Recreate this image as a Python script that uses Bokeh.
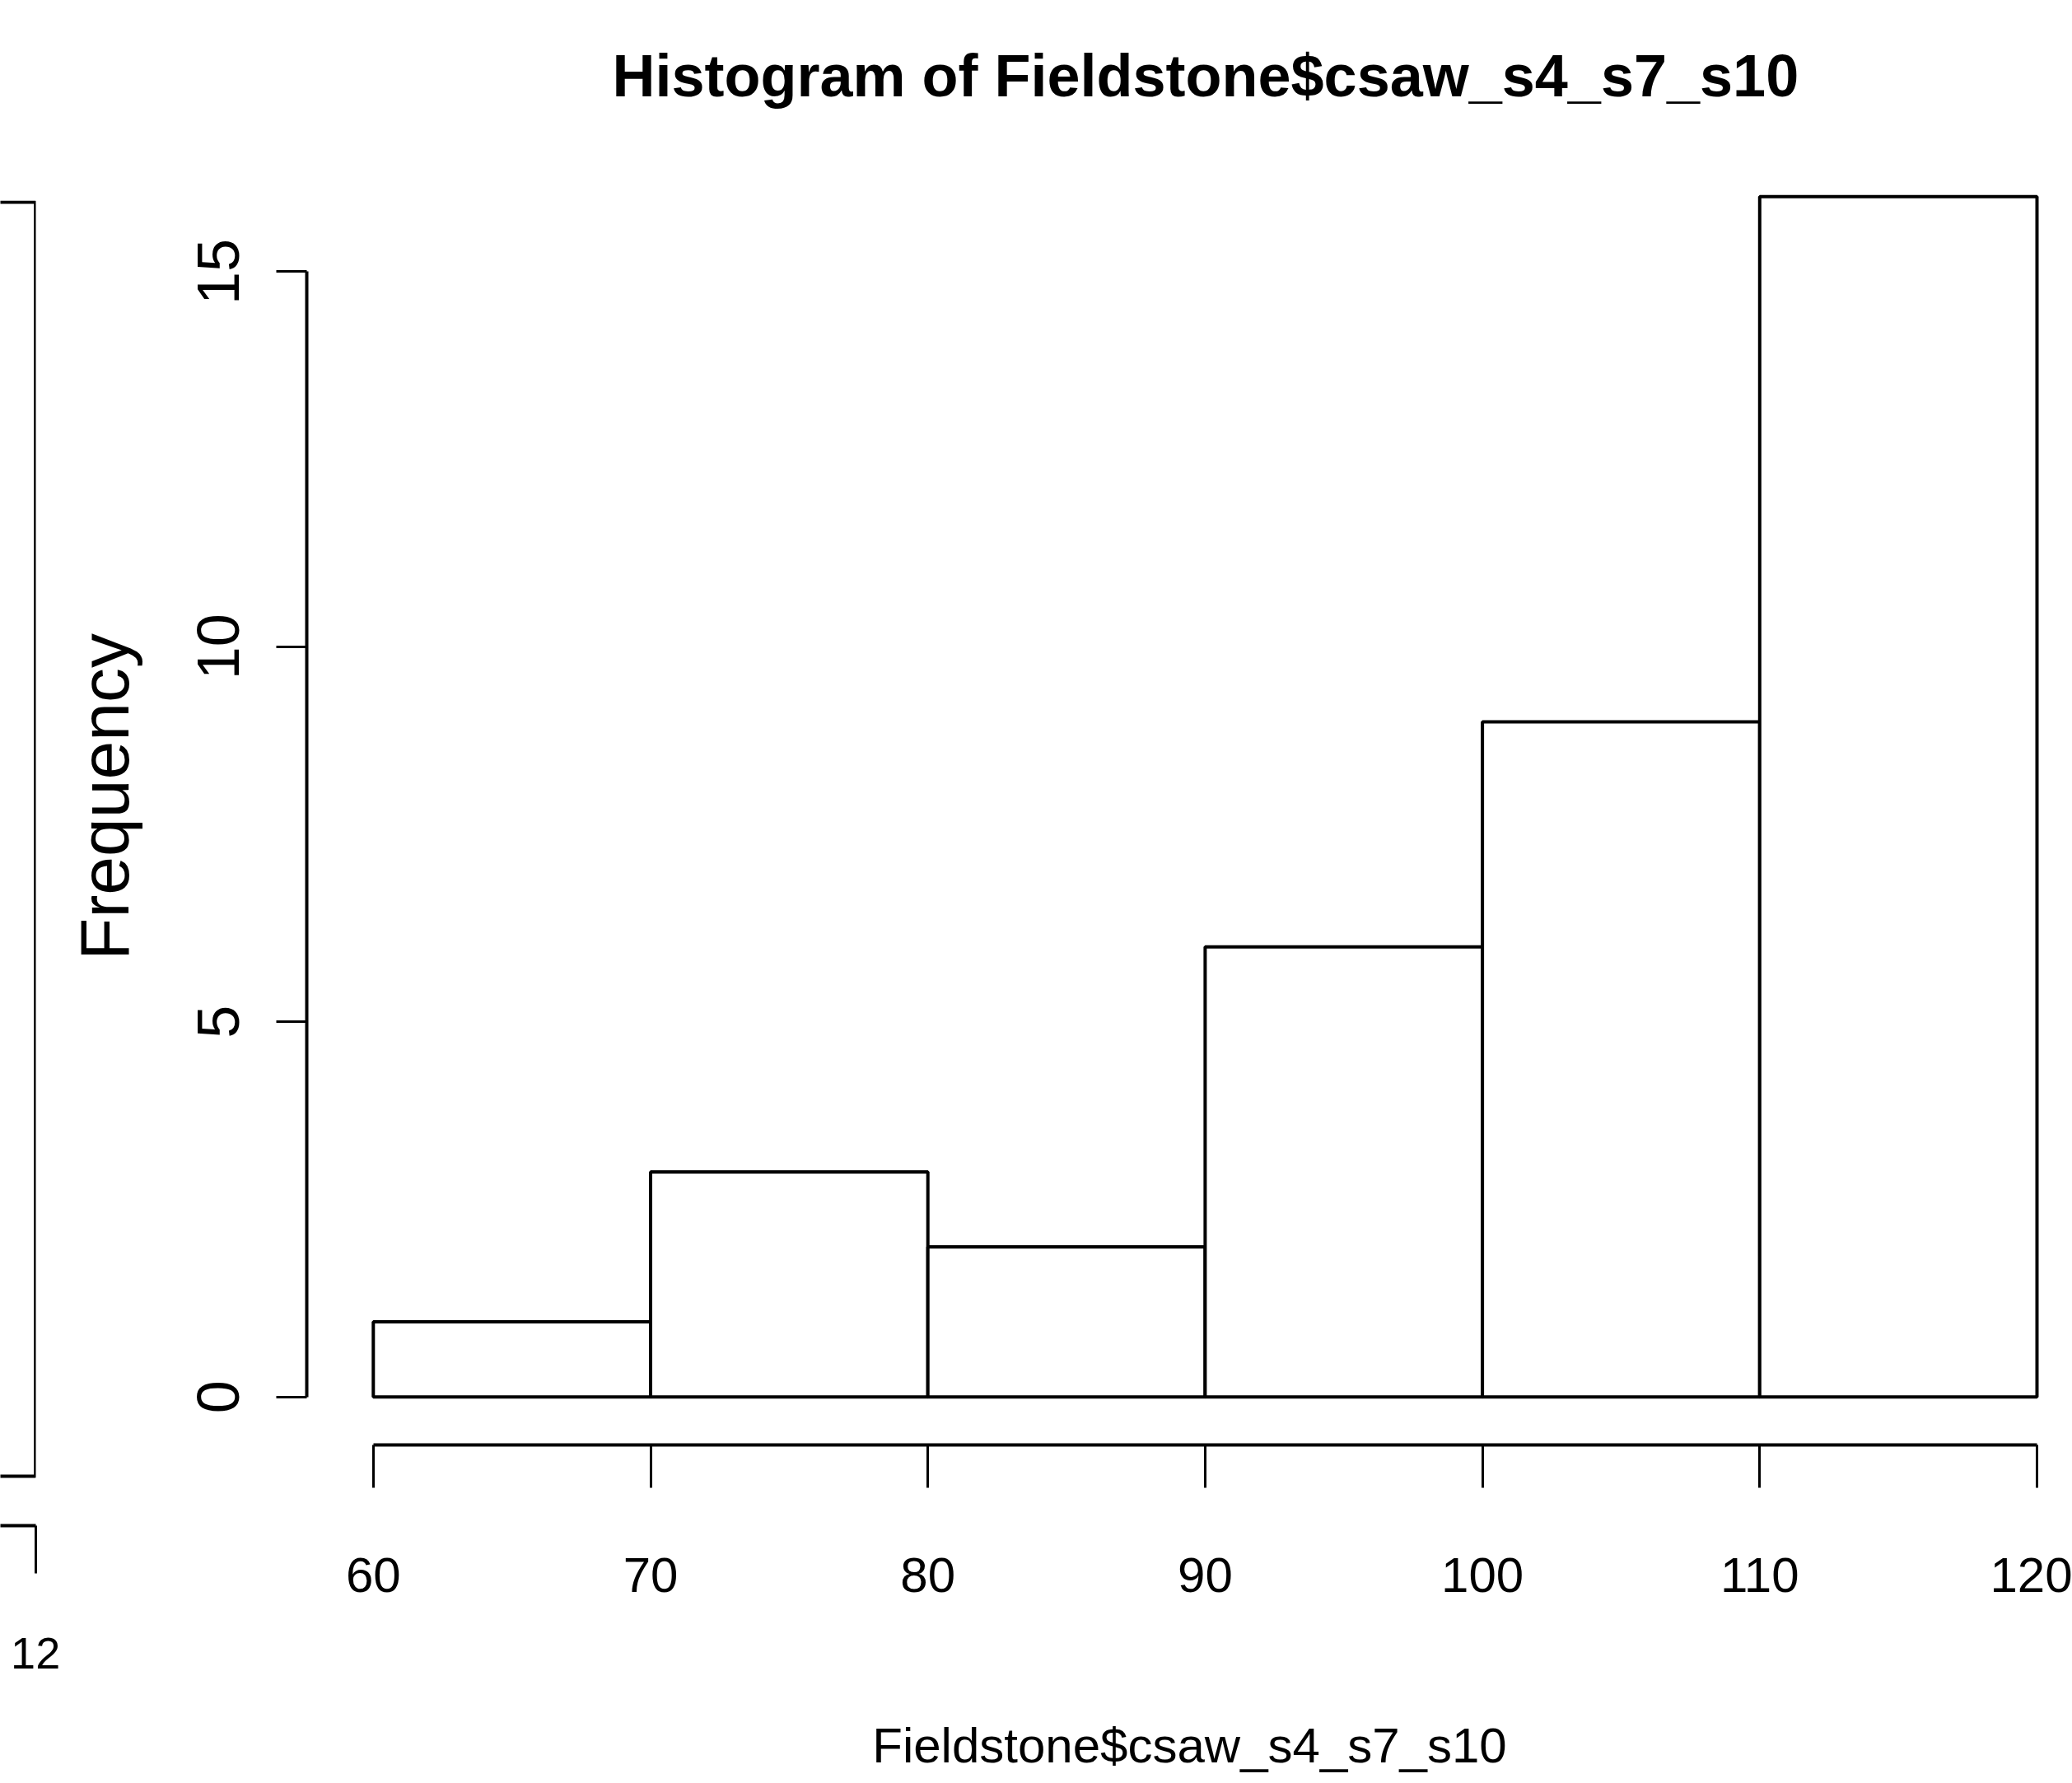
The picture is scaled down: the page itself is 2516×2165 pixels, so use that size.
from bokeh.plotting import figure
from bokeh.models import Range1d, FixedTicker, Title
from bokeh.layouts import row, column
from bokeh.embed import file_html
from bokeh.resources import INLINE

# ---- data ----
breaks = [60, 70, 80, 90, 100, 110, 120]
counts = [1, 3, 2, 6, 9, 16]
x_ticks = [60, 70, 80, 90, 100, 110, 120]
y_ticks = [0, 5, 10, 15]
title_text = "Histogram of Fieldstone$csaw_s4_s7_s10"
x_label = "Fieldstone$csaw_s4_s7_s10"
y_label = "Frequency"
# neighbouring (cut-off) panel at the left edge
left_ticks = [120]
left_tick_text = {120: "12"}

SANS = "Liberation Sans"

W, H = 2516, 2165
W_L = 74
FRAME_LEFT, FRAME_TOP, FRAME_BOTTOM = 372, 180, 1754

# R-style ranges: data range padded by 4 %
x0, x1 = breaks[0], breaks[-1]
xpad = 0.04 * (x1 - x0)
y0, y1 = 0, max(counts)
ypad = 0.04 * (y1 - y0)
x_start = x0 - xpad
px_per_x = (1542 - 283) * (2516 / 1568) / (x1 - x0)
x_end = x_start + (W - FRAME_LEFT) / px_per_x
y_start, y_end = y0 - ypad, y1 + ypad

# ---- left, cut-off neighbouring panel ----
pl = figure(width=W_L, height=H, output_backend="svg", toolbar_location=None,
            x_range=Range1d(0, 121), y_range=Range1d(-60, 1549),
            min_border_left=0, min_border_right=W_L - 43, min_border_top=243,
            min_border_bottom=H - 1852)
pl.outline_line_color = None
pl.grid.visible = False
pl.yaxis.visible = False
pl.quad(left=[-10], right=[left_ticks[-1]], bottom=[0], top=[1547],
        fill_color=None, line_color="black", line_width=4)
ax = pl.xaxis[0]
ax.ticker = FixedTicker(ticks=left_ticks)
ax.major_label_overrides = left_tick_text
ax.minor_tick_line_color = None
ax.major_tick_in = 0
ax.major_tick_out = 58
ax.major_tick_line_width = 3
ax.major_tick_line_color = "black"
ax.axis_line_width = 4
ax.axis_line_color = "black"
ax.major_label_text_font = SANS
ax.major_label_text_font_size = "54px"
ax.major_label_text_color = "black"
ax.major_label_standoff = 78

# ---- main histogram ----
p = figure(width=W - W_L, height=H, output_backend="svg", toolbar_location=None,
           x_range=Range1d(x_start, x_end), y_range=Range1d(y_start, y_end),
           min_border_left=FRAME_LEFT - W_L, min_border_right=0,
           min_border_top=FRAME_TOP, min_border_bottom=H - FRAME_BOTTOM)
p.outline_line_color = None
p.grid.visible = False
p.background_fill_color = "white"

p.quad(left=breaks[:-1], right=breaks[1:], bottom=0, top=counts,
       fill_color="white", line_color="black", line_width=4)

# title (left aligned with an offset so that it is centred over the data range)
p.add_layout(Title(text=title_text, align="left", offset=371, standoff=98,
                   text_font=SANS, text_font_style="bold",
                   text_font_size="72px", text_color="black"), "above")

xa = p.xaxis[0]
xa.ticker = FixedTicker(ticks=x_ticks)
xa.bounds = (x_ticks[0], x_ticks[-1])
xa.minor_tick_line_color = None
xa.major_tick_in = 0
xa.major_tick_out = 52
xa.major_tick_line_width = 3
xa.major_tick_line_color = "black"
xa.axis_line_width = 4
xa.axis_line_color = "black"
xa.major_label_text_font = SANS
xa.major_label_text_font_size = "60px"
xa.major_label_text_color = "black"
xa.major_label_standoff = 85
xa.axis_label = x_label
xa.axis_label_text_font = SANS
xa.axis_label_text_font_size = "60px"
xa.axis_label_text_font_style = "normal"
xa.axis_label_text_color = "black"
xa.axis_label_standoff = 150

ya = p.yaxis[0]
ya.ticker = FixedTicker(ticks=y_ticks)
ya.bounds = (y_ticks[0], y_ticks[-1])
ya.minor_tick_line_color = None
ya.major_tick_in = 0
ya.major_tick_out = 37
ya.major_tick_line_width = 3
ya.major_tick_line_color = "black"
ya.axis_line_width = 4
ya.axis_line_color = "black"
ya.major_label_orientation = "vertical"
ya.major_label_text_font = SANS
ya.major_label_text_font_size = "72px"
ya.major_label_text_color = "black"
ya.major_label_standoff = 45
ya.axis_label = y_label
ya.axis_label_text_font = SANS
ya.axis_label_text_font_size = "84px"
ya.axis_label_text_font_style = "normal"
ya.axis_label_text_color = "black"
ya.axis_label_standoff = 64

layout = row(column(pl), p, spacing=0)
open("out.html", "w").write(file_html(layout, INLINE))
